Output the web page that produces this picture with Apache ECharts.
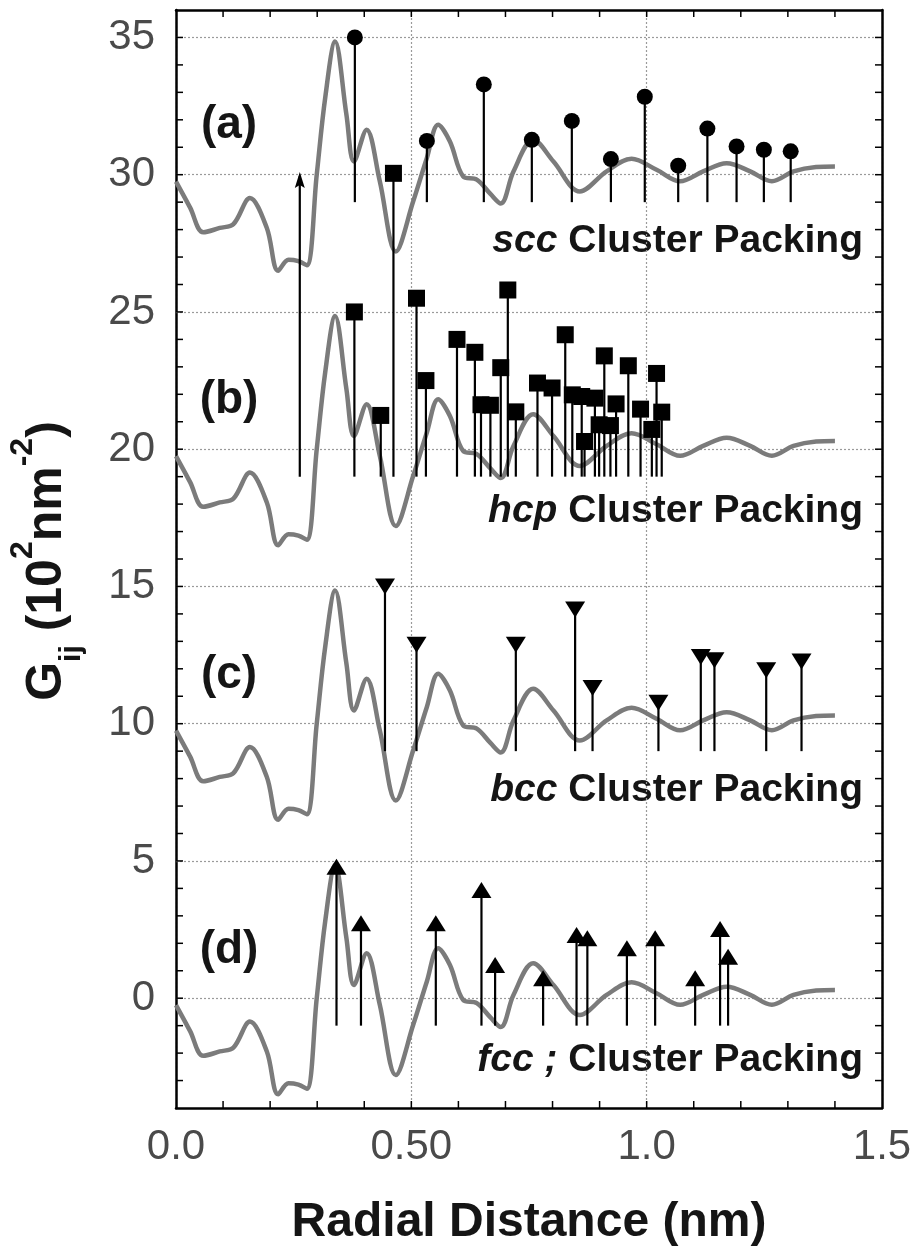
<!DOCTYPE html>
<html><head><meta charset="utf-8">
<script src="https://cdn.jsdelivr.net/npm/echarts@6/dist/echarts.min.js"></script>
<style>html,body{margin:0;padding:0;background:#fff}#c{width:917px;height:1249px}</style>
</head><body><div id="c"></div>
<script>
// ---- data ----
// base pair-correlation curve (panel d, offset 0); panels are stacked with offsets
const curveX = [0, 0.03, 0.058, 0.093, 0.122, 0.157, 0.193, 0.217, 0.239, 0.26, 0.278, 0.299, 0.317, 0.338, 0.362, 0.378, 0.405, 0.433, 0.467, 0.504, 0.533, 0.557, 0.582, 0.61, 0.639, 0.668, 0.69, 0.717, 0.759, 0.802, 0.858, 0.915, 0.968, 1.021, 1.071, 1.12, 1.17, 1.22, 1.266, 1.312, 1.36, 1.40];
const curveY = [-0.25, -1.2, -2.1, -1.94, -1.8, -0.85, -1.94, -3.5, -3.1, -3.15, -3.3, 0.0, 2.8, 4.85, 2.2, 0.48, 1.64, -0.24, -2.8, -0.97, 0.61, 1.82, 1.21, -0.06, -0.18, -0.7, -1.05, 0.12, 1.27, 0.48, -0.61, 0.12, 0.58, 0.18, -0.24, 0.12, 0.42, 0.12, -0.24, 0.12, 0.28, 0.30];
const panelOffsets = [30, 20, 10, 0];
const panelTags = ['(a)', '(b)', '(c)', '(d)'];
const packingNames = ['scc', 'hcp', 'bcc', 'fcc ;'];
const stemBases = [29, 19, 9, -1];

const scX = [0.380, 0.533, 0.654, 0.756, 0.841, 0.924, 0.996, 1.067, 1.129, 1.191, 1.249, 1.306];
const scY = [35.0, 31.23, 33.29, 31.27, 31.96, 30.57, 32.84, 30.33, 31.68, 31.03, 30.91, 30.85];

const hcpX = [0.379, 0.435, 0.462, 0.511, 0.531, 0.597, 0.635, 0.648, 0.668, 0.690, 0.705, 0.722, 0.768, 0.799, 0.827, 0.842, 0.862, 0.868, 0.890, 0.899, 0.910, 0.923, 0.935, 0.961, 0.987, 1.011, 1.021, 1.032];
const hcpY = [25.0, 21.23, 30.05, 25.5, 22.5, 24.0, 23.53, 21.62, 21.6, 22.97, 25.8, 21.36, 22.41, 22.23, 24.17, 21.98, 21.92, 20.28, 21.86, 20.89, 23.40, 20.86, 21.65, 23.04, 21.46, 20.72, 22.76, 21.35];
const hcpArrowX = [0.263];
const hcpArrowY = [30.1];

const bccX = [0.444, 0.511, 0.722, 0.848, 0.885, 1.025, 1.115, 1.144, 1.254, 1.329];
const bccY = [15.0, 12.88, 12.88, 14.16, 11.30, 10.76, 12.43, 12.31, 11.95, 12.27];

const fccX = [0.341, 0.393, 0.552, 0.649, 0.678, 0.780, 0.851, 0.874, 0.958, 1.018, 1.103, 1.156, 1.173];
const fccY = [4.79, 2.73, 2.73, 3.94, 1.21, 0.73, 2.30, 2.18, 1.82, 2.18, 0.73, 2.52, 1.51];

const xTickValues = [0, 0.5, 1.0, 1.5];
const xTickLabels = ['0.0', '0.50', '1.0', '1.5'];
const yGridValues = [0, 5, 10, 15, 20, 25, 30, 35];
const xMinorTicks = [0.1, 0.2, 0.3, 0.4, 0.5, 0.6, 0.7, 0.8, 0.9, 1.0, 1.1, 1.2, 1.3, 1.4];
const yMinorTicks = [-3, -2, -1, 0, 1, 2, 3, 4, 5, 6, 7, 8, 9, 10, 11, 12, 13, 14, 15, 16, 17, 18, 19, 20, 21, 22, 23, 24, 25, 26, 27, 28, 29, 30, 31, 32, 33, 34, 35];

// ---- chart ----
const FONT = "'Liberation Sans', Arial, Helvetica, sans-serif";
const X_MIN = 0, X_MAX = 1.5, Y_MIN = -4, Y_MAX = 36;
const chart = echarts.init(document.getElementById('c'), null, {renderer: 'canvas'});

const mkLine = () => ({show: true, onZero: false, lineStyle: {color: '#000', width: 2.5}});

function xAx(pos, labels) {
  return {
    type: 'value', position: pos, min: X_MIN, max: X_MAX, interval: 0.5,
    axisLine: mkLine(), axisTick: {show: false}, minorTick: {show: false},
    splitLine: {show: labels, lineStyle: {color: '#9a9a9a', width: 1.2, type: [2, 2]}},
    axisLabel: labels ? {
      show: true, margin: 18, fontSize: 42, color: '#4a4a4a', fontFamily: FONT,
      formatter: v => { const i = xTickValues.findIndex(t => Math.abs(t - v) < 1e-6); return i >= 0 ? xTickLabels[i] : ''; }
    } : {show: false}
  };
}
function yAx(pos, labels) {
  return {
    type: 'value', position: pos, min: Y_MIN, max: Y_MAX, interval: 1,
    axisLine: mkLine(), axisTick: {show: false}, splitLine: {show: false},
    axisLabel: labels ? {
      show: true, margin: 21, fontSize: 42, color: '#4a4a4a', fontFamily: FONT,
      formatter: v => (yGridValues.indexOf(v) >= 0 ? String(v) : '')
    } : {show: false}
  };
}

function stemSeries(xs, ys, base) {
  return {
    type: 'custom', silent: true, z: 3, animation: false,
    data: xs.map((x, i) => [x, ys[i], base]),
    encode: {x: 0, y: [1, 2]},
    renderItem: (params, api) => {
      const a = api.coord([api.value(0), api.value(2)]);
      const b = api.coord([api.value(0), api.value(1)]);
      return {type: 'line', shape: {x1: a[0], y1: a[1], x2: b[0], y2: b[1]}, style: {stroke: '#000', lineWidth: 2.2}};
    }
  };
}
function markerSeries(xs, ys, symbol, size, rotate) {
  return {
    type: 'scatter', silent: true, z: 10, symbol, symbolSize: size, symbolRotate: rotate || 0,
    itemStyle: {color: '#000', opacity: 1},
    data: xs.map((x, i) => [x, ys[i]])
  };
}

const TICK_LEN = 7;
const tickStyle = {stroke: '#000', lineWidth: 1.5};

const series = [];
// grid lines (horizontal) via markLine on an empty helper series
series.push({
  type: 'line', data: [], z: 1, silent: true,
  markLine: {
    silent: true, z: 1, symbol: 'none', label: {show: false}, animation: false,
    lineStyle: {color: '#9a9a9a', width: 1.2, type: [2, 2]},
    data: yGridValues.map(v => ({yAxis: v}))
  }
});
// inward ticks on left/right frame
series.push({
  type: 'custom', silent: true, z: 6, clip: false,
  data: yMinorTicks.map(v => [X_MIN, v]),
  encode: {x: 0, y: 1},
  renderItem: (params, api) => {
    const l = api.coord([X_MIN, api.value(1)]);
    const r = api.coord([X_MAX, api.value(1)]);
    return {type: 'group', children: [
      {type: 'line', shape: {x1: l[0], y1: l[1], x2: l[0] + TICK_LEN, y2: l[1]}, style: tickStyle},
      {type: 'line', shape: {x1: r[0], y1: r[1], x2: r[0] - TICK_LEN, y2: r[1]}, style: tickStyle}
    ]};
  }
});
// inward ticks on bottom/top frame
series.push({
  type: 'custom', silent: true, z: 6, clip: false,
  data: xMinorTicks.map(v => [v, Y_MIN]),
  encode: {x: 0, y: 1},
  renderItem: (params, api) => {
    const b = api.coord([api.value(0), Y_MIN]);
    const t = api.coord([api.value(0), Y_MAX]);
    return {type: 'group', children: [
      {type: 'line', shape: {x1: b[0], y1: b[1], x2: b[0], y2: b[1] - TICK_LEN}, style: tickStyle},
      {type: 'line', shape: {x1: t[0], y1: t[1], x2: t[0], y2: t[1] + TICK_LEN}, style: tickStyle}
    ]};
  }
});
panelOffsets.forEach(off => {
  series.push({
    type: 'line', z: 2, silent: true, smooth: 0.35, symbol: 'none',
    lineStyle: {color: '#7b7b7b', width: 4.5},
    data: curveX.map((x, i) => [x, curveY[i] + off])
  });
});
series.push(stemSeries(scX, scY, stemBases[0]));
series.push(stemSeries(hcpX, hcpY, stemBases[1]));
series.push(stemSeries(bccX, bccY, stemBases[2]));
series.push(stemSeries(fccX, fccY, stemBases[3]));
// hcp arrow
series.push({
  type: 'custom', silent: true, z: 3,
  data: hcpArrowX.map((x, i) => [x, hcpArrowY[i], stemBases[1]]),
  encode: {x: 0, y: [1, 2]},
  renderItem: (params, api) => {
    const a = api.coord([api.value(0), api.value(2)]);
    const b = api.coord([api.value(0), api.value(1)]);
    return {type: 'group', children: [
      {type: 'line', shape: {x1: a[0], y1: a[1], x2: b[0], y2: b[1] + 4}, style: {stroke: '#000', lineWidth: 2.2}},
      {type: 'polygon', shape: {points: [[b[0], b[1]], [b[0] + 5, b[1] + 16], [b[0], b[1] + 13], [b[0] - 5, b[1] + 16]]}, style: {fill: '#000'}}
    ]};
  }
});
series.push(markerSeries(scX, scY, 'circle', 16));
series.push(markerSeries(hcpX, hcpY, 'rect', 17));
series.push(markerSeries(bccX, bccY, 'triangle', [20, 16], 180));
series.push(markerSeries(fccX, fccY, 'triangle', [20, 16]));

const graphics = [];
const tagY = [125, 400, 675, 950];
const packY = [241, 511, 790, 1060];
panelTags.forEach((t, i) => {
  graphics.push({type: 'text', x: 229, y: tagY[i], silent: true,
    style: {text: t, fill: '#151515', font: `bold 46px ${FONT}`, align: 'center', verticalAlign: 'middle'}});
  graphics.push({type: 'text', x: 863, y: packY[i], silent: true,
    style: {text: `{i|${packingNames[i]}}{b| Cluster Packing}`, align: 'right', verticalAlign: 'middle',
      rich: {
        i: {fill: '#151515', fontSize: 39, fontWeight: 'bold', fontStyle: 'italic', fontFamily: FONT},
        b: {fill: '#151515', fontSize: 39, fontWeight: 'bold', fontFamily: FONT}
      }}});
});
graphics.push({type: 'text', x: 529, y: 1223, silent: true,
  style: {text: 'Radial Distance (nm)', fill: '#151515', font: `bold 48px ${FONT}`, align: 'center', verticalAlign: 'middle'}});
graphics.push({type: 'text', x: 47, y: 561, rotation: Math.PI / 2, silent: true,
  style: {text: '{m|G}{s|ij}{m| (10}{p|2}{m|nm}{p|-2}{m|)}', align: 'center', verticalAlign: 'middle',
    rich: {
      m: {fill: '#151515', fontSize: 50, fontWeight: 'bold', fontFamily: FONT, lineHeight: 80, verticalAlign: 'middle'},
      s: {fill: '#151515', fontSize: 30, fontWeight: 'bold', fontFamily: FONT, lineHeight: 80, verticalAlign: 'bottom'},
      p: {fill: '#151515', fontSize: 32, fontWeight: 'bold', fontFamily: FONT, lineHeight: 80, verticalAlign: 'top'}
    }}});

chart.setOption({
  animation: false,
  backgroundColor: '#fff',
  grid: {left: 176, top: 10, width: 706, height: 1098, containLabel: false},
  xAxis: [xAx('bottom', true), xAx('top', false)],
  yAxis: [yAx('left', true), yAx('right', false)],
  series,
  graphic: graphics
});
</script>
</body></html>
